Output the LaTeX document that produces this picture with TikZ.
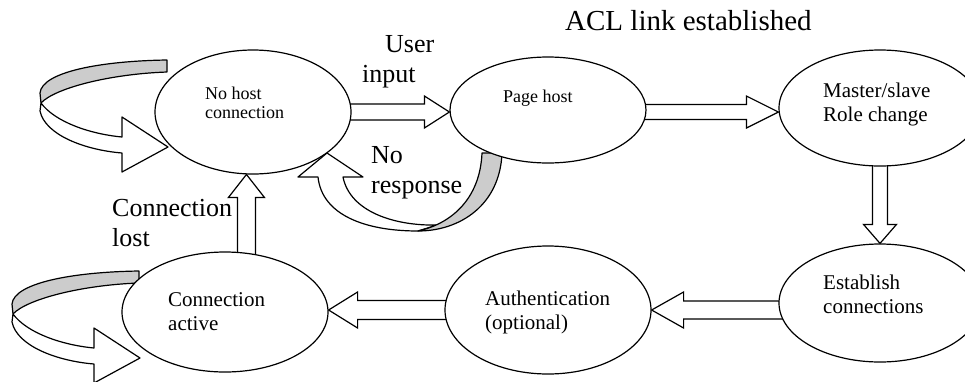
\documentclass[tikz,border=0pt]{standalone}
\usepackage{fontspec}
\setmainfont{Liberation Serif}
\usetikzlibrary{shapes.geometric,calc,backgrounds}

% hollow block arrow: #1 head length, #2 half shaft width, #3 half head width, #4 from, #5 to
\newcommand\hollowarrow[5]{%
  \path (#4) coordinate (ha-s) (#5) coordinate (ha-t);
  \path ($(ha-t)!#1!(ha-s)$) coordinate (ha-h);
  \draw[blockarrow] ($(ha-s)!#2!90:(ha-t)$) -- ($(ha-h)!#2!90:(ha-t)$)
    -- ($(ha-h)!#3!90:(ha-t)$) -- (ha-t) -- ($(ha-h)!#3!-90:(ha-t)$)
    -- ($(ha-h)!#2!-90:(ha-t)$) -- ($(ha-s)!#2!-90:(ha-t)$) -- cycle;}

\tikzset{
  state/.style={ellipse, draw, line width=1.2pt, fill=white, inner sep=0pt},
  intext/.style={align=left, inner sep=0pt, anchor=west},
  smalltext/.style={font=\fontsize{18}{19}\selectfont},
  bigtext/.style={font=\fontsize{21}{24}\selectfont},
  tag/.style={font=\fontsize{26}{30}\selectfont, inner sep=0pt, anchor=base west},
  blockarrow/.style={draw, line width=1.2pt, fill=white, line join=miter},
  ribbon/.style={draw, line width=1.2pt, fill=white, line join=round},
  ribbonback/.style={draw, line width=1.2pt, fill=black!20, line join=round},
  selfloop/.pic={
    \path[ribbonback] (167,60) .. controls (100,61) and (42,72) .. (40,93)
      -- (41,103) .. controls (55,88) and (110,74) .. (167,72) -- cycle;
    \path[ribbon] (41,103) .. controls (55,122) and (90,134) .. (122,137)
      -- (122,117) -- (168,147) -- (122,172) -- (122,153)
      .. controls (85,150) and (45,135) .. (40,111) -- cycle;
  },
}

\begin{document}
\begin{tikzpicture}[x=1pt, y=-1pt]
\clip (0,0) rectangle (965,381);
\useasboundingbox (0,0) rectangle (965,381);

% states
\node[state, minimum width=196pt, minimum height=124pt] (nohost) at (253,112) {};
\node[state, minimum width=196pt, minimum height=106pt] (pagehost) at (548,110) {};
\node[state, minimum width=202pt, minimum height=116pt] (master) at (880,108) {};
\node[state, minimum width=202pt, minimum height=118pt] (establish) at (880,303) {};
\node[state, minimum width=206pt, minimum height=128pt] (auth) at (548,310) {};
\node[state, minimum width=206pt, minimum height=120pt] (active) at (225,312) {};

% state texts
\node[intext, smalltext] (nohost-t) at (205,103) {No host\\connection};
\node[smalltext, inner sep=0pt, anchor=base west] (pagehost-t) at (503,102) {Page host};
\node[intext, bigtext] (master-t) at (823,104) {Master/slave\\Role change};
\node[intext, bigtext] (establish-t) at (823,294) {Establish\\connections};
\node[intext, bigtext] (auth-t) at (485,312) {Authentication\\(optional)};
\node[intext, bigtext] (active-t) at (168,312) {Connection\\active};

% transition labels
\node[tag] (user-l) at (385,52) {User};
\node[tag] (input-l) at (362,82) {input};
\node[tag] (no-l) at (371,163) {No};
\node[tag] (resp-l) at (371,193) {response};
\node[tag] (conn-l) at (112,216) {Connection};
\node[tag] (lost-l) at (112,246) {lost};
\node[tag, font=\fontsize{29}{32}\selectfont] (acl-l) at (565,30) {ACL link established};

\begin{pgfonlayer}{background}
  % transitions
  \hollowarrow{25pt}{8pt}{16pt}{nohost.center}{nohost.center -| pagehost.west}
  \hollowarrow{32pt}{7.5pt}{16pt}{pagehost.center |- nohost.center}{nohost.center -| master.west}
  \hollowarrow{19pt}{7.5pt}{16.5pt}{master.center}{establish.north}
  \hollowarrow{32pt}{9pt}{18pt}{establish.center |- auth.east}{auth.east}
  \hollowarrow{29pt}{9.5pt}{18pt}{auth.center}{auth.center -| active.east}
  \hollowarrow{23pt}{9pt}{18pt}{nohost.264 |- active.center}{nohost.264}

  % self loops
  \pic at (0,0) {selfloop};
  \pic at (-28,211) {selfloop};

  % no response: back from page host to no host
  \path[ribbon] (418,231) .. controls (365,231) and (322,215) .. (318,177)
    -- (298,177) -- (327,153) -- (363,177) -- (343,177)
    .. controls (350,212) and (395,226) .. (437,225) -- cycle;
  \path[ribbonback] (482,153) -- (502,153) .. controls (500,205) and (460,231) .. (418,231)
    .. controls (450,224) and (480,200) .. (482,153) -- cycle;
\end{pgfonlayer}
\end{tikzpicture}
\end{document}
